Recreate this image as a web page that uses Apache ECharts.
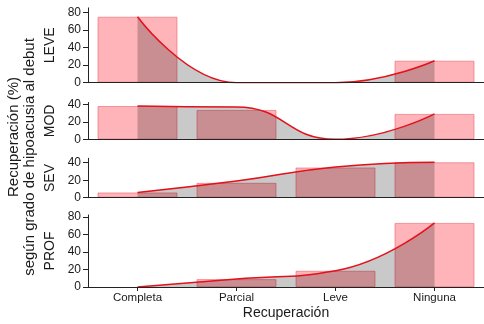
<!DOCTYPE html>
<html>
<head>
<meta charset="utf-8">
<script src="https://cdn.jsdelivr.net/npm/echarts@6/dist/echarts.min.js"></script>
<style>
html, body { margin: 0; padding: 0; background: #fff; }
#box { width: 484px; height: 324px; }
</style>
</head>
<body>
<div id="box"></div>
<script>
// datos ------------------------------------------------------------------
var categories = ['Completa', 'Parcial', 'Leve', 'Ninguna'];
var panelNames = ['LEVE', 'MOD', 'SEV', 'PROF'];

var leveBars = [75, 0, 0, 25];
var leveLine = [75, 0, 0, 25];
var modBars = [38, 33.5, 0, 29];
var modLine = [38, 37, 0, 29];
var sevBars = [6, 17, 34.5, 40.5];
var sevLine = [6, 19, 35, 40.5];
var profBars = [0, 9, 18.5, 73];
var profLine = [0, 9, 18.5, 73];

var yMax = [85, 42, 45, 82];
var majorTicks = [[0, 20, 40, 60, 80], [0, 20, 40], [0, 20, 40], [0, 20, 40, 60, 80]];
var minorTicks = [[10, 30, 50, 70], [10, 30], [10, 30], [10, 30, 50, 70]];

var barsData = [leveBars, modBars, sevBars, profBars];
var lineData = [leveLine, modLine, sevLine, profLine];
var monotone = ['x', 'x', null, null];

// layout -----------------------------------------------------------------
var gridTop = [7.9, 102.5, 158.3, 215];
var gridHeight = [74.8, 36.8, 39.4, 72];
var font = '"Liberation Sans", Arial, sans-serif';
var txt = '#1a1a1a';

var myChart = echarts.init(document.getElementById('box'));

var grids = [], xAxes = [], yAxes = [], series = [];
for (var i = 0; i < 4; i++) {
    var last = i === 3;
    grids.push({ left: 88, width: 396, top: gridTop[i], height: gridHeight[i] });
    xAxes.push({
        gridIndex: i,
        type: 'category',
        data: categories,
        boundaryGap: true,
        z: 5,
        axisLine: { lineStyle: { color: '#222', width: 1 } },
        axisTick: { show: last, alignWithLabel: true, length: 4, lineStyle: { color: '#222' } },
        axisLabel: { show: last, margin: 5, color: txt, fontSize: 11.5, fontFamily: font },
        name: last ? 'Recuperación' : '',
        nameLocation: 'middle',
        nameGap: 19,
        nameTextStyle: { color: txt, fontSize: 14, fontFamily: font }
    });
    yAxes.push({
        gridIndex: i,
        type: 'value',
        min: 0,
        max: yMax[i],
        z: 5,
        splitLine: { show: false },
        axisLine: { show: true, lineStyle: { color: '#222', width: 1 } },
        axisTick: { show: true, length: 5, customValues: majorTicks[i], lineStyle: { color: '#222' } },
        axisLabel: { margin: 7, customValues: majorTicks[i], color: txt, fontSize: 12, fontFamily: font },
        name: panelNames[i],
        nameLocation: 'middle',
        nameGap: 28,
        nameTextStyle: { color: txt, fontSize: 14, fontFamily: font }
    });
    // eje auxiliar solo para las marcas menores
    yAxes.push({
        gridIndex: i,
        type: 'value',
        min: 0,
        max: yMax[i],
        z: 5,
        splitLine: { show: false },
        axisLine: { show: false },
        axisLabel: { show: false },
        axisTick: { show: true, length: 3, customValues: minorTicks[i], lineStyle: { color: '#222' } }
    });

    series.push({
        type: 'bar',
        xAxisIndex: i,
        yAxisIndex: 2 * i,
        barWidth: 80,
        data: barsData[i].map(function (v) { return v === 0 ? '-' : v; }),
        itemStyle: { color: '#ffb4b9', borderColor: 'rgba(232,90,100,0.55)', borderWidth: 1 },
        z: 2
    });
    series.push({
        type: 'line',
        xAxisIndex: i,
        yAxisIndex: 2 * i,
        data: lineData[i],
        smooth: true,
        smoothMonotone: monotone[i] || undefined,
        symbol: 'none',
        lineStyle: { color: '#e4101a', width: 1.5 },
        areaStyle: { color: 'rgba(0,0,0,0.3)' },
        z: 3
    });
}

var option = {
    backgroundColor: '#fff',
    animation: false,
    grid: grids,
    xAxis: xAxes,
    yAxis: yAxes,
    series: series,
    graphic: [
        {
            type: 'text',
            x: 14, y: 137,
            rotation: Math.PI / 2,
            style: { text: 'Recuperación (%)', fill: txt, font: '15px ' + font, textAlign: 'center', textVerticalAlign: 'middle' }
        },
        {
            type: 'text',
            x: 30, y: 157,
            rotation: Math.PI / 2,
            style: { text: 'según grado de hipoacusia al debut', fill: txt, font: '15px ' + font, textAlign: 'center', textVerticalAlign: 'middle' }
        }
    ]
};

option && myChart.setOption(option);
</script>
</body>
</html>
